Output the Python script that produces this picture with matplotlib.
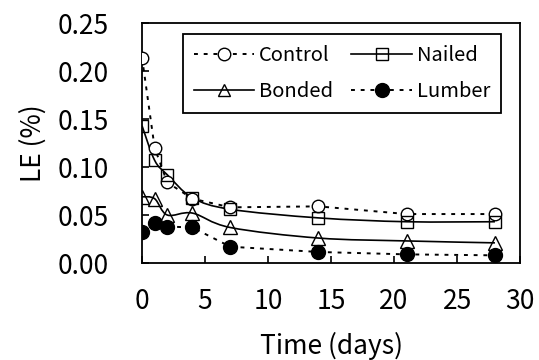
import numpy as np
import matplotlib
matplotlib.use("Agg")
import matplotlib.pyplot as plt
from matplotlib.path import Path
from matplotlib.patches import PathPatch
from matplotlib.lines import Line2D

plt.rcParams['font.family'] = ['Noto Sans CJK JP', 'DejaVu Sans']

# data
days = [0, 1, 2, 4, 7, 14, 21, 28]
control = [0.214, 0.120, 0.084, 0.067, 0.058, 0.059, 0.051, 0.051]
nailed = [0.143, 0.107, 0.092, 0.068, 0.056, 0.047, 0.043, 0.043]
bonded = [0.069, 0.067, 0.050, 0.052, 0.037, 0.026, 0.023, 0.021]
lumber = [0.032, 0.042, 0.038, 0.037, 0.017, 0.0115, 0.009, 0.008]

xticks = [0, 5, 10, 15, 20, 25, 30]
yticks = [0.00, 0.05, 0.10, 0.15, 0.20, 0.25]

dot = (0, (2, 3))


def smooth_path(x, y):
    # Excel-style smoothed line: cubic Bezier through every point
    p = np.column_stack([x, y]).astype(float)
    n = len(p)
    verts = [p[0]]
    codes = [Path.MOVETO]
    for i in range(n - 1):
        p0 = p[i - 1] if i > 0 else p[i]
        p3 = p[i + 2] if i + 2 < n else p[i + 1]
        c1 = p[i] + (p[i + 1] - p0) / 6
        c2 = p[i + 1] - (p3 - p[i]) / 6
        verts += [c1, c2, p[i + 1]]
        codes += [Path.CURVE4] * 3
    return Path(verts, codes)


fig = plt.figure(figsize=(5.39, 3.6), dpi=100)
ax = fig.add_axes([0.2635, 0.2694, 0.7015, 0.6667])

ax.plot(days, control, color='k', lw=1.4, ls=dot, marker='o', ms=9,
        mfc='white', mec='k', mew=1.0, zorder=3)
ax.plot(days, lumber, color='k', lw=1.4, ls=dot, marker='o', ms=10,
        mfc='k', mec='k', zorder=3)
for vals in (nailed, bonded):
    ax.add_patch(PathPatch(smooth_path(days, vals), fill=False, ec='k', lw=1.2, zorder=2))
ax.plot(days, nailed, ls='none', marker='s', ms=9, mfc='none', mec='k', mew=1.0, zorder=3)
ax.plot(days, bonded, ls='none', marker='^', ms=9.5, mfc='none', mec='k', mew=1.0, zorder=3)

ax.set_xlim(0, 30)
ax.set_ylim(0, 0.25)
ax.set_xticks(xticks)
ax.set_yticks(yticks)
ax.set_yticklabels([f"{v:.2f}" for v in yticks])
ax.tick_params(direction='in', length=5, width=1.2, labelsize=19)
ax.tick_params(axis='y', pad=24)
ax.tick_params(axis='x', pad=18)
for s in ax.spines.values():
    s.set_linewidth(1.3)

ax.set_xlabel('Time (days)', fontsize=19, labelpad=12)
ax.set_ylabel('LE (%)', fontsize=19, labelpad=8)

handles = [
    Line2D([], [], color='k', lw=1.4, ls=dot, marker='o', ms=9, mfc='white', mec='k'),
    Line2D([], [], color='k', lw=1.2, marker='^', ms=9, mfc='none', mec='k'),
    Line2D([], [], color='k', lw=1.2, marker='s', ms=9, mfc='none', mec='k'),
    Line2D([], [], color='k', lw=1.4, ls=dot, marker='o', ms=10, mfc='k', mec='k'),
]
labels = ['Control', 'Bonded', 'Nailed', 'Lumber']
leg = ax.legend(handles, labels, ncol=2, loc='upper right', bbox_to_anchor=(0.95, 0.955),
                borderaxespad=0, fontsize=14.5, fancybox=False, framealpha=1,
                edgecolor='k', handlelength=3.0, handletextpad=0.25, columnspacing=0.9,
                labelspacing=0.75, borderpad=0.55)
leg.get_frame().set_linewidth(1.3)

fig.savefig('out.png', dpi=100)
